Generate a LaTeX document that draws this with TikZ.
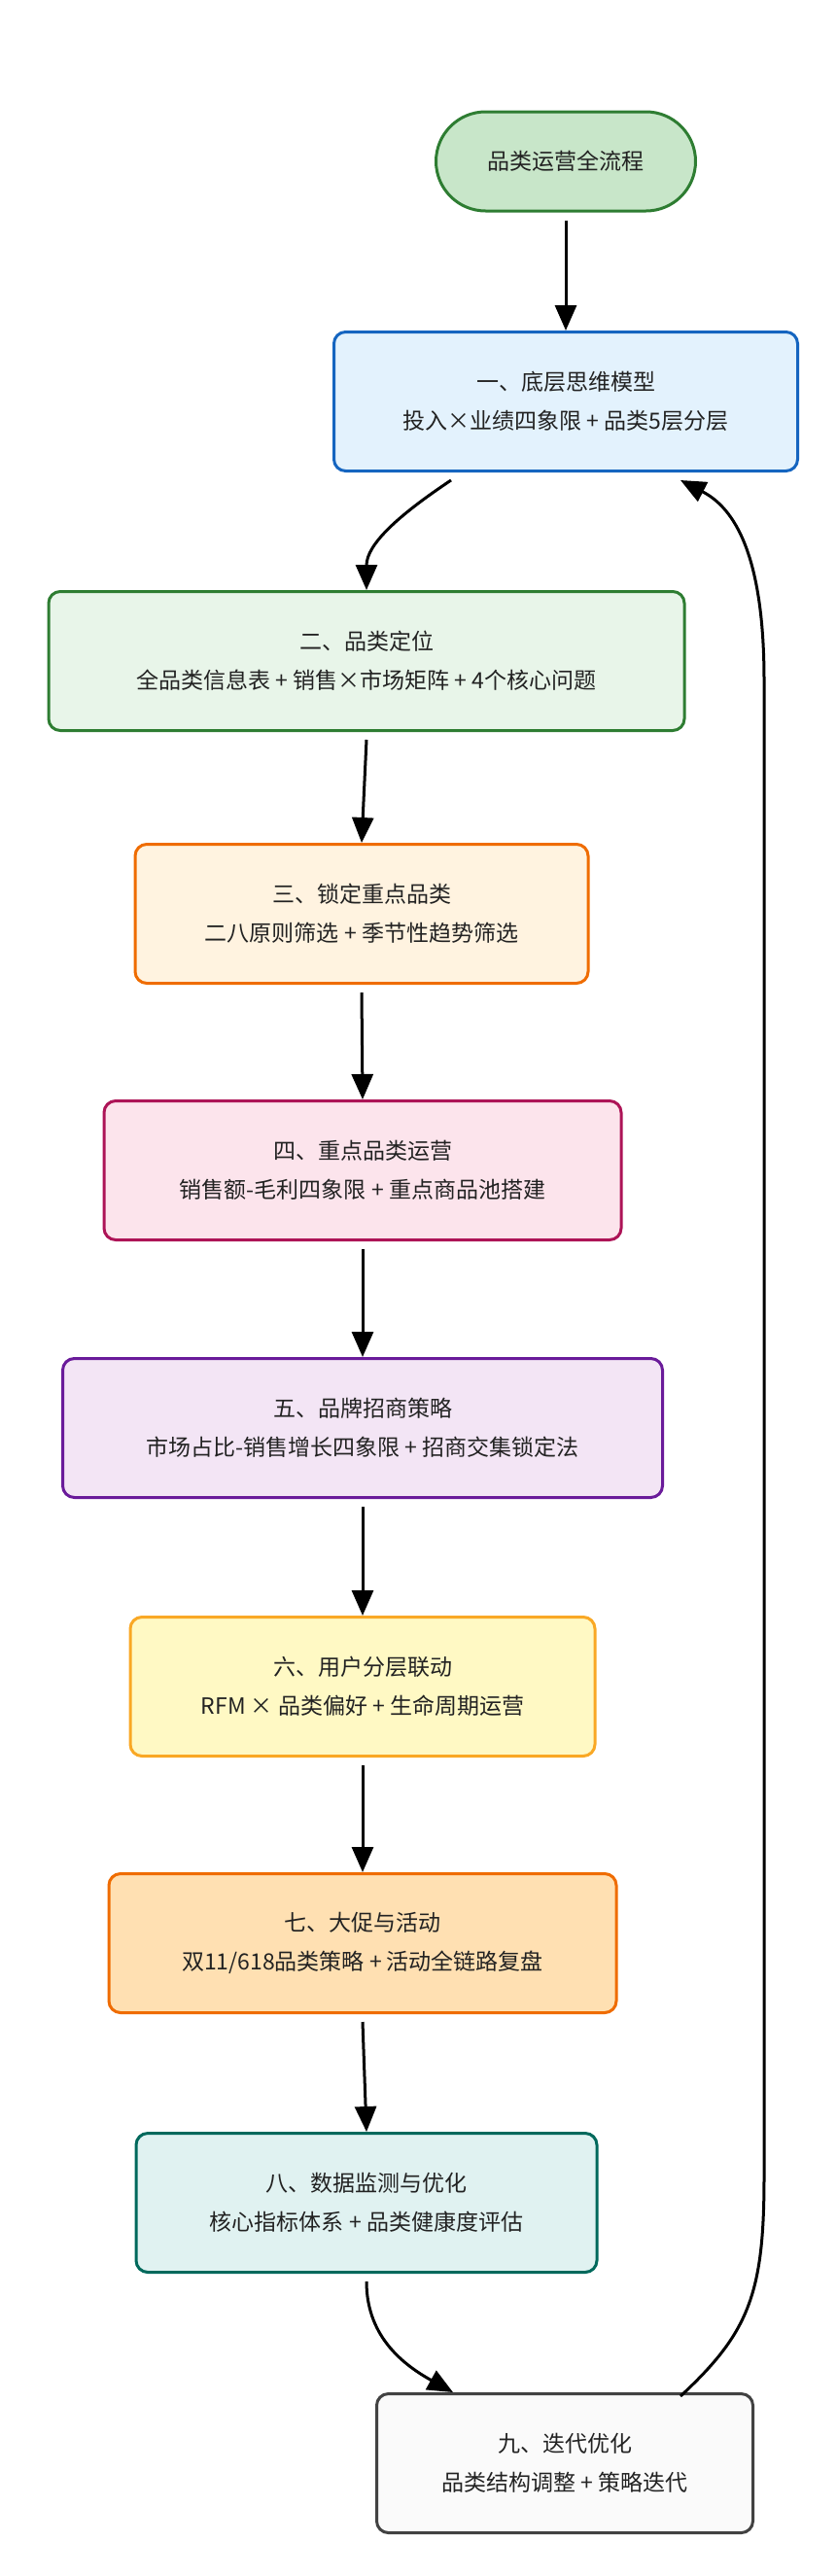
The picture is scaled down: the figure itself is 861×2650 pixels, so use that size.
\documentclass[tikz,border=0pt]{standalone}
\usepackage{fontspec}
\setmainfont{Noto Sans CJK SC}
\usetikzlibrary{arrows.meta}
\definecolor{f0}{HTML}{C8E6C9}\definecolor{d0}{HTML}{2E7D32}
\definecolor{f1}{HTML}{E3F2FD}\definecolor{d1}{HTML}{1565C0}
\definecolor{f2}{HTML}{E8F5E9}\definecolor{d2}{HTML}{2E7D32}
\definecolor{f3}{HTML}{FFF3E0}\definecolor{d3}{HTML}{EF6C00}
\definecolor{f4}{HTML}{FCE4EC}\definecolor{d4}{HTML}{AD1457}
\definecolor{f5}{HTML}{F3E5F5}\definecolor{d5}{HTML}{6A1B9A}
\definecolor{f6}{HTML}{FFF9C4}\definecolor{d6}{HTML}{F9A825}
\definecolor{f7}{HTML}{FFE0B2}\definecolor{d7}{HTML}{EF6C00}
\definecolor{f8}{HTML}{E0F2F1}\definecolor{d8}{HTML}{00695C}
\definecolor{f9}{HTML}{FAFAFA}\definecolor{d9}{HTML}{424242}
\definecolor{txt}{HTML}{222222}
\begin{document}
\begin{tikzpicture}[x=1pt,y=-1pt,
  box/.style={draw=d#1,fill=f#1,line width=3pt,rounded corners=12pt,align=center,
    text=txt,font=\fontsize{23}{40}\selectfont,inner sep=0pt},
  arr/.style={line width=3pt,-{Triangle[length=26pt,width=22pt]}}]
\useasboundingbox (0,0) rectangle (861,2650);
\node[draw=d0,fill=f0,line width=3pt,rounded corners=51pt,minimum width=267pt,minimum height=102pt,text=txt,font=\fontsize{23}{30}\selectfont] (s) at (582,166) {品类运营全流程};
\node[box=1,minimum width=477pt,minimum height=143pt] (b1) at (582,413) {一、底层思维模型\\投入×业绩四象限 + 品类5层分层};
\node[box=2,minimum width=654pt,minimum height=143pt] (b2) at (377,680) {二、品类定位\\全品类信息表 + 销售×市场矩阵 + 4个核心问题};
\node[box=3,minimum width=466pt,minimum height=143pt] (b3) at (372,940) {三、锁定重点品类\\二八原则筛选 + 季节性趋势筛选};
\node[box=4,minimum width=532pt,minimum height=143pt] (b4) at (373,1204) {四、重点品类运营\\销售额-毛利四象限 + 重点商品池搭建};
\node[box=5,minimum width=617pt,minimum height=143pt] (b5) at (373,1469) {五、品牌招商策略\\市场占比-销售增长四象限 + 招商交集锁定法};
\node[box=6,minimum width=478pt,minimum height=143pt] (b6) at (373,1735) {六、用户分层联动\\RFM × 品类偏好 + 生命周期运营};
\node[box=7,minimum width=522pt,minimum height=143pt] (b7) at (373,1999) {七、大促与活动\\双11/618品类策略 + 活动全链路复盘};
\node[box=8,minimum width=474pt,minimum height=143pt] (b8) at (377,2266) {八、数据监测与优化\\核心指标体系 + 品类健康度评估};
\node[box=9,minimum width=387pt,minimum height=143pt] (b9) at (581,2534) {九、迭代优化\\品类结构调整 + 策略迭代};
\draw[arr] (s.south) ++(0,8) -- (b1.north);
\draw[arr] ([xshift=-118pt,yshift=-8pt]b1.south) .. controls (410,530) and (377,560) .. (b2.north);
\draw[arr] (b2.south) ++(0,8) -- (b3.north);
\draw[arr] (b3.south) ++(0,8) -- (b4.north);
\draw[arr] (b4.south) ++(0,8) -- (b5.north);
\draw[arr] (b5.south) ++(0,8) -- (b6.north);
\draw[arr] (b6.south) ++(0,8) -- (b7.north);
\draw[arr] (b7.south) ++(0,8) -- (b8.north);
\draw[arr] ([yshift=-8pt]b8.south) .. controls (377,2400) and (410,2430) .. ([xshift=-115pt]b9.north);
\draw[arr] ([xshift=119pt,yshift=-4pt]b9.north) .. controls (770,2400) and (786,2360) .. (786,2240)
  -- (786,700) .. controls (786,560) and (750,520) .. ([xshift=118pt,yshift=-8pt]b1.south);
\end{tikzpicture}
\end{document}
